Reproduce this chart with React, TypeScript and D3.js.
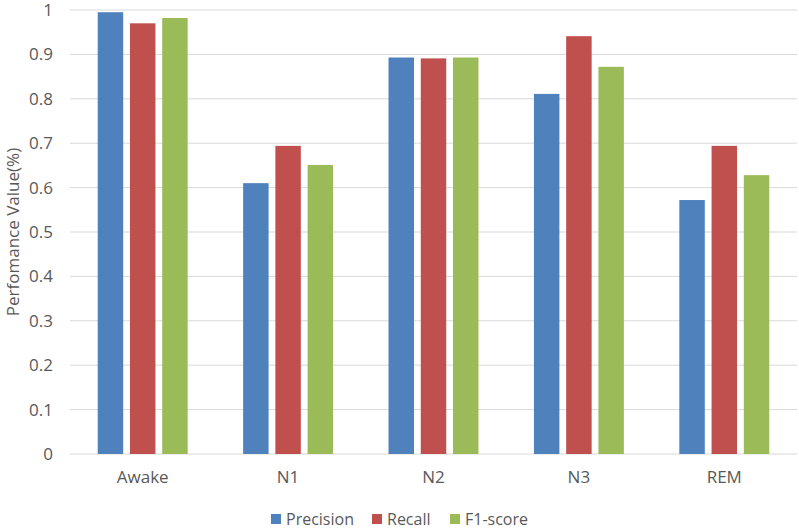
import React from 'react';
import * as d3 from 'd3';

const categories = ['Awake', 'N1', 'N2', 'N3', 'REM'];
const seriesNames = ['Precision', 'Recall', 'F1-score'];
const precision = [0.995, 0.61, 0.893, 0.811, 0.572];
const recall = [0.97, 0.694, 0.891, 0.941, 0.694];
const f1score = [0.982, 0.651, 0.893, 0.872, 0.628];
const yTicks = [0, 0.1, 0.2, 0.3, 0.4, 0.5, 0.6, 0.7, 0.8, 0.9, 1];
const colors = ['#4f81bd', '#c0504d', '#9bbb59'];

const W = 799;
const H = 529;
const font = '"Open Sans", "Noto Sans", sans-serif';
const textColor = '#595959';

const App: React.FC = () => {
  const values = [precision, recall, f1score];

  const x = d3.scaleBand<string>().domain(categories).range([70, 797]);
  const xInner = d3
    .scaleBand<string>()
    .domain(seriesNames)
    .range([0, x.bandwidth()])
    .paddingInner(0.21)
    .paddingOuter(0.86);
  const y = d3.scaleLinear().domain([0, 1]).range([454, 10]);

  // legend layout
  const legendX = [271, 372, 450];

  return (
    <svg width={W} height={H} style={{ position: 'absolute', left: 0, top: 0, background: '#fff' }}>
      {/* grid */}
      {yTicks.map((t) => (
        <g key={t}>
          <line x1={70} x2={797} y1={y(t)} y2={y(t)} stroke="#d9d9d9" strokeWidth={1} />
          <text
            x={53}
            y={y(t)}
            dy="0.35em"
            textAnchor="end"
            fontFamily={font}
            fontSize={17}
            fill={textColor}
          >
            {d3.format('')(t)}
          </text>
        </g>
      ))}

      {/* bars */}
      {categories.map((c, i) => (
        <g key={c} transform={`translate(${x(c)},0)`}>
          {seriesNames.map((s, j) => (
            <rect
              key={s}
              x={xInner(s)}
              y={y(values[j][i])}
              width={xInner.bandwidth()}
              height={y(0) - y(values[j][i])}
              fill={colors[j]}
            />
          ))}
          <text
            x={x.bandwidth() / 2}
            y={483}
            textAnchor="middle"
            fontFamily={font}
            fontSize={17}
            fill={textColor}
          >
            {c}
          </text>
        </g>
      ))}

      {/* y axis title */}
      <text
        transform={`translate(19,${y(0.5)}) rotate(-90)`}
        textAnchor="middle"
        fontFamily={font}
        fontSize={17}
        fill={textColor}
      >
        Perfomance Value(%)
      </text>

      {/* legend */}
      {seriesNames.map((s, j) => (
        <g key={s} transform={`translate(${legendX[j]},519)`}>
          <rect x={0} y={-5} width={10} height={10} fill={colors[j]} />
          <text x={15} y={0} dy="0.35em" fontFamily={font} fontSize={16} fill={textColor}>
            {s}
          </text>
        </g>
      ))}
    </svg>
  );
};

export default App;
